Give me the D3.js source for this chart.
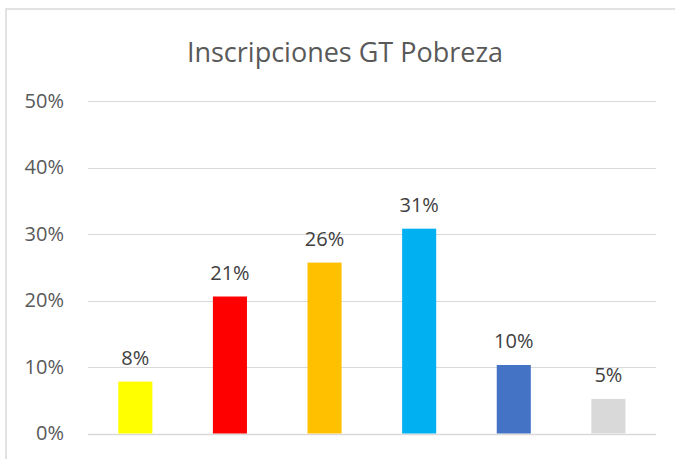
<!DOCTYPE html>
<html>
<head>
<meta charset="utf-8">
<script src="https://cdnjs.cloudflare.com/ajax/libs/d3/7.8.5/d3.min.js"></script>
<style>
  body { margin: 0; background: #fff; }
  svg { font-family: "Open Sans", sans-serif; }
</style>
</head>
<body>
<div id="chart"></div>
<script>
// chart data
var categories = ['A', 'B', 'C', 'D', 'E', 'F'];
var values = [0.078, 0.206, 0.257, 0.308, 0.103, 0.052];
var valueLabels = ['8%', '21%', '26%', '31%', '10%', '5%'];
var barColors = ['#ffff00', '#ff0000', '#ffc000', '#00b0f0', '#4472c4', '#d9d9d9'];
var yTicks = [0, 0.1, 0.2, 0.3, 0.4, 0.5];

var width = 675,
  height = 459;

var margin = { top: 101, right: 19, bottom: 25, left: 88 };

var svg = d3.select('#chart')
  .append('svg')
  .attr('width', width)
  .attr('height', height);

// chart area border (runs off the right and bottom edges)
svg.append('rect')
  .attr('x', 6)
  .attr('y', 9)
  .attr('width', 700)
  .attr('height', 470)
  .attr('fill', '#fff')
  .attr('stroke', '#d9d9d9')
  .attr('stroke-width', 1.5);

svg.append('text')
  .attr('x', 345)
  .attr('y', 61.5)
  .attr('text-anchor', 'middle')
  .attr('fill', '#595959')
  .style('font-size', '27px')
  .text('Inscripciones GT Pobreza');

var x = d3.scaleBand()
  .domain(categories)
  .range([margin.left, width - margin.right - 0.3])
  .paddingInner(0.64)
  .paddingOuter(0.32);

var y = d3.scaleLinear()
  .domain([0, 0.5])
  .range([height - margin.bottom - 0.5, margin.top]);

// gridlines
svg.append('g')
  .selectAll('line')
  .data(yTicks)
  .enter().append('line')
  .attr('x1', margin.left)
  .attr('x2', width - margin.right)
  .attr('y1', function(d) { return Math.round(y(d)) + 0.5; })
  .attr('y2', function(d) { return Math.round(y(d)) + 0.5; })
  .attr('stroke', '#d9d9d9')
  .attr('stroke-width', function(d) { return d === 0 ? 1.5 : 1.2; });

// y axis labels
var yAxis = d3.axisLeft(y)
  .tickValues(yTicks)
  .tickFormat(d3.format('.0%'))
  .tickSize(0)
  .tickPadding(24);

var yAxisG = svg.append('g')
  .attr('transform', 'translate(' + margin.left + ',0)')
  .call(yAxis);

yAxisG.select('.domain').remove();
yAxisG.selectAll('text')
  .attr('fill', '#595959')
  .style('font-size', '20px')
  .style('font-family', '"Open Sans", sans-serif');

// bars
svg.append('g')
  .selectAll('rect')
  .data(values)
  .enter().append('rect')
  .attr('x', function(d, i) { return x(categories[i]); })
  .attr('y', function(d) { return y(d); })
  .attr('width', x.bandwidth())
  .attr('height', function(d) { return y(0) - y(d); })
  .attr('fill', function(d, i) { return barColors[i]; });

// value labels
svg.append('g')
  .selectAll('text')
  .data(values)
  .enter().append('text')
  .attr('x', function(d, i) { return x(categories[i]) + x.bandwidth() / 2; })
  .attr('y', function(d) { return y(d) - 17; })
  .attr('text-anchor', 'middle')
  .attr('fill', '#404040')
  .style('font-size', '20px')
  .text(function(d, i) { return valueLabels[i]; });
</script>
</body>
</html>
